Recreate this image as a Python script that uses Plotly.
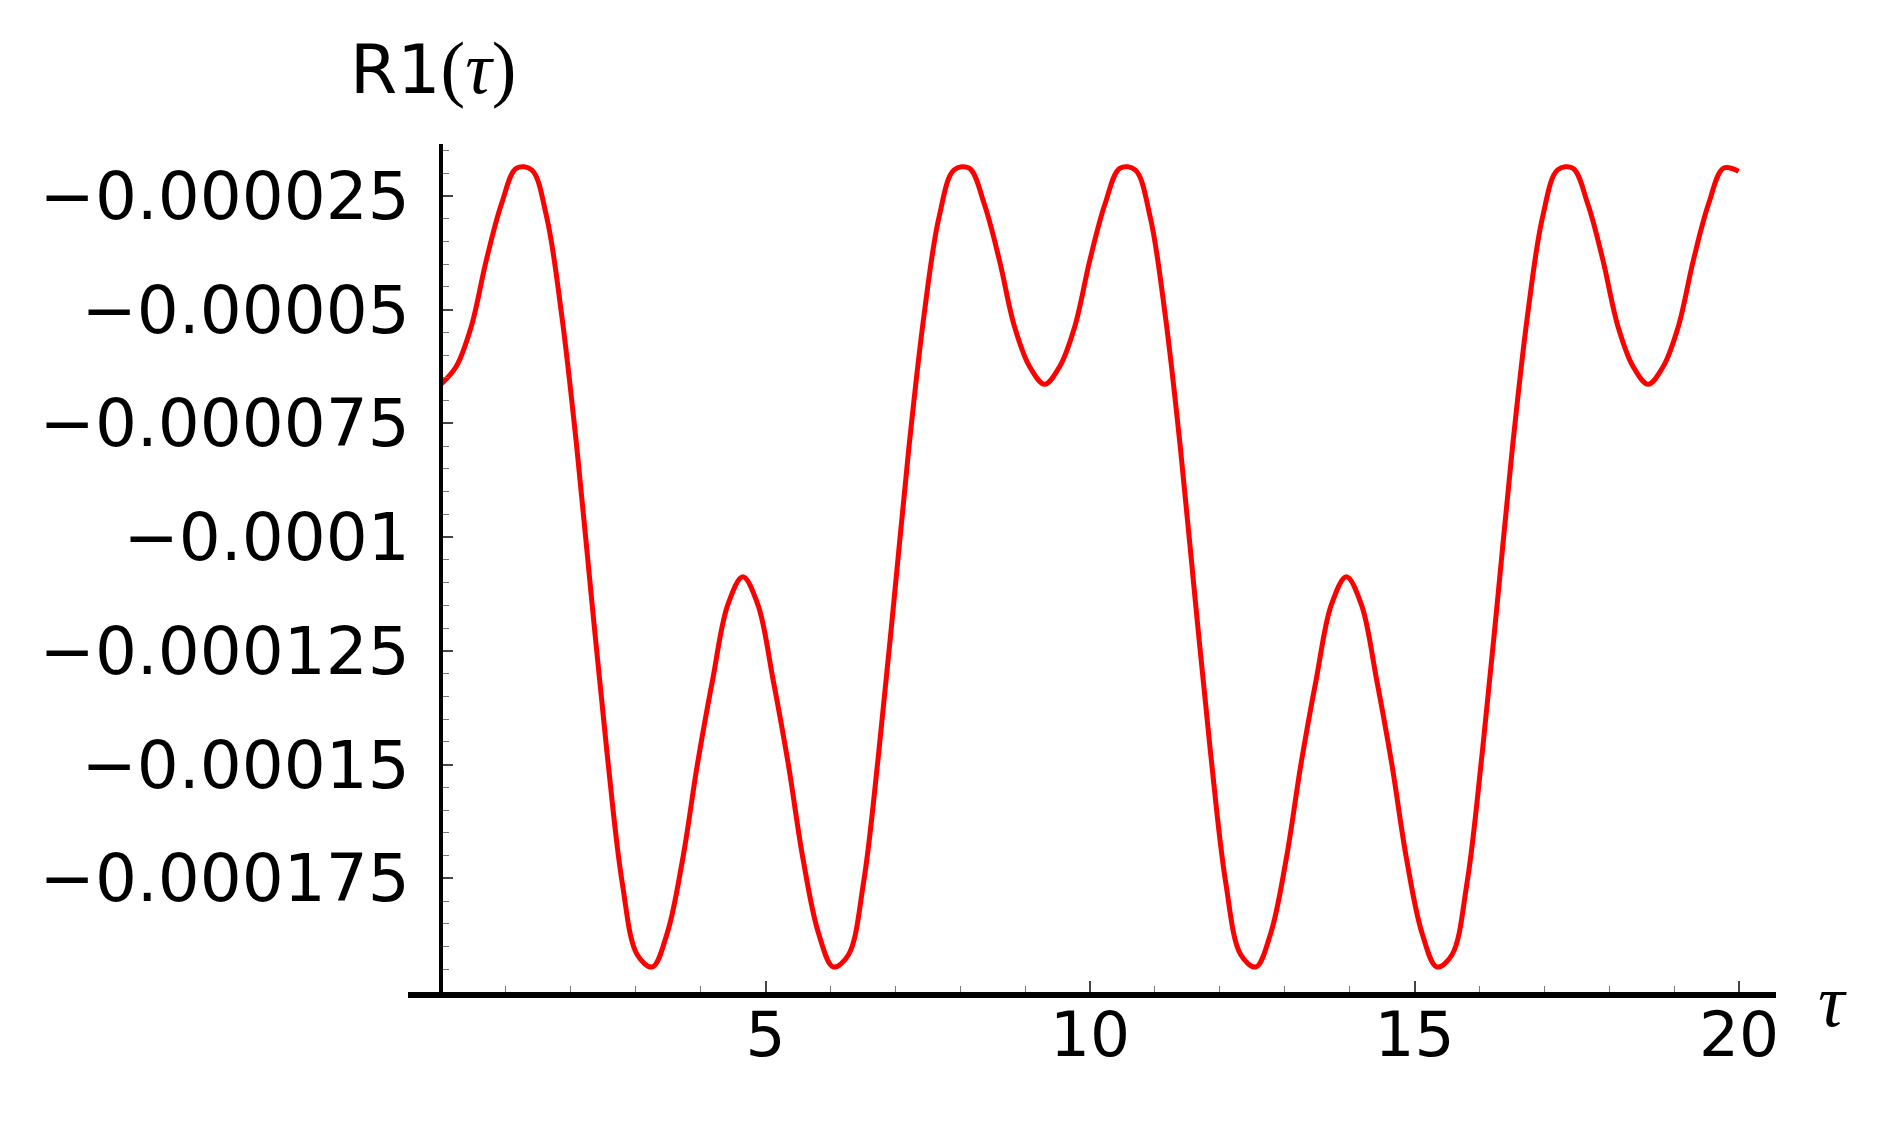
import plotly.graph_objects as go

tau = [0.0, 0.2325, 0.465, 0.6975, 0.93, 1.1625, 1.395, 1.6275, 1.86, 2.0925, 2.325, 2.5575, 2.79, 3.0225,
       3.255, 3.4875, 3.72, 3.9525, 4.185, 4.4175, 4.65, 4.8825, 5.115, 5.3475, 5.58, 5.8125, 6.045, 6.2775,
       6.51, 6.7425, 6.975, 7.2075, 7.44, 7.6725, 7.905, 8.1375, 8.37, 8.6025, 8.835, 9.0675, 9.3, 9.5325,
       9.765, 9.9975, 10.23, 10.4625, 10.695, 10.9275, 11.16, 11.3925, 11.625, 11.8575, 12.09, 12.3225,
       12.555, 12.7875, 13.02, 13.2525, 13.485, 13.7175, 13.95, 14.1825, 14.415, 14.6475, 14.88, 15.1125,
       15.345, 15.5775, 15.81, 16.0425, 16.275, 16.5075, 16.74, 16.9725, 17.205, 17.4375, 17.67, 17.9025,
       18.135, 18.3675, 18.6, 18.8325, 19.065, 19.2975, 19.53, 19.7625, 19.995]
r1_micro = [
    -66.4, -62.5, -53.7, -39.1, -26.8, -18.9, -19.3, -29.7, -51.4, -80.5, -114.5, -147.5, -175.9, -191.8,
    -194.5, -186.9, -171.0, -149.7, -131.3, -114.9, -108.7,
    -114.9, -131.3, -149.7, -171.0, -186.9, -194.5, -191.8, -175.9, -147.5, -114.5, -80.5, -51.4, -29.7,
    -19.3, -18.9, -26.8, -39.1, -53.7, -62.5,
    -66.4, -62.5, -53.7, -39.1, -26.8, -18.9, -19.3, -29.7, -51.4, -80.5, -114.5, -147.5, -175.9, -191.8,
    -194.5, -186.9, -171.0, -149.7, -131.3, -114.9, -108.7,
    -114.9, -131.3, -149.7, -171.0, -186.9, -194.5, -191.8, -175.9, -147.5, -114.5, -80.5, -51.4, -29.7,
    -19.3, -18.9, -26.8, -39.1, -53.7, -62.5,
    -66.4, -62.5, -53.7, -39.1, -26.8, -18.9, -19.6]

x_tick_vals = [5, 10, 15, 20]
x_tick_text = ["5", "10", "15", "20"]
x_minor_vals = [1, 2, 3, 4, 6, 7, 8, 9, 11, 12, 13, 14, 16, 17, 18, 19]
y_tick_vals = [-0.000025, -0.00005, -0.000075, -0.0001, -0.000125, -0.00015, -0.000175]
y_tick_text = ["\u22120.000025", "\u22120.00005", "\u22120.000075", "\u22120.0001",
               "\u22120.000125", "\u22120.00015", "\u22120.000175"]
y_minor_vals = [-0.000005 * k for k in range(3, 40)]

r1 = [v * 1e-6 for v in r1_micro]

# page has an 8px body margin, so the figure is shrunk by that much
OFF = 8
W, H = 1884 - OFF, 1133 - OFF
L, R, T, B = 408 - OFF, 108, 144 - OFF, 141
PL, PR, PT, PB = 408, 1776, 144, 992  # plot area in page pixels
pw, ph = PR - PL, PB - PT
x0_px = 441
x_rng = [-0.51, 20.57]
y_rng = [-0.0002, -0.0000136]

fig = go.Figure()
fig.add_trace(go.Scatter(x=tau, y=r1, mode="lines",
                         line=dict(color="#ff0000", width=5, shape="spline", smoothing=1.0),
                         hoverinfo="skip", showlegend=False))

xfont = dict(family="DejaVu Sans", size=63, color="black")
yfont = dict(family="DejaVu Sans", size=66, color="black")
fig.update_layout(
    width=W, height=H,
    margin=dict(l=L, r=R, t=T, b=B),
    paper_bgcolor="white", plot_bgcolor="white",
    xaxis=dict(range=x_rng, showgrid=False, zeroline=False, showline=True, linecolor="black", linewidth=6,
               tickmode="array", tickvals=x_tick_vals, ticktext=x_tick_text, ticks="inside", ticklen=11,
               tickwidth=1.5, tickcolor="#444", tickfont=xfont, ticklabelstandoff=-18,
               minor=dict(tickmode="array", tickvals=x_minor_vals, ticks="inside", ticklen=6,
                          tickwidth=1.2, tickcolor="#777")),
    yaxis=dict(range=y_rng, showgrid=False, zeroline=False, showline=True, linecolor="black", linewidth=4,
               anchor="free", position=(x0_px - PL) / pw,
               tickmode="array", tickvals=y_tick_vals, ticktext=y_tick_text, ticks="inside", ticklen=10,
               tickwidth=1.5, tickcolor="#444", tickfont=yfont, ticklabelstandoff=16,
               minor=dict(tickmode="array", tickvals=y_minor_vals, ticks="inside", ticklen=6,
                          tickwidth=1.2, tickcolor="#777")),
)

fig.add_annotation(xref="paper", yref="paper", x=(348 - PL) / pw, y=(PB - 68) / ph, xanchor="left", yanchor="middle",
                   showarrow=False,
                   text="<span style='font-family:DejaVu Sans;font-size:68px'>R1</span>"
                        "<span style='font-family:Liberation Serif;font-size:74px'>(<i>\u03c4</i>)</span>",
                   font=dict(color="black"))
fig.add_annotation(xref="paper", yref="paper", x=(1832 - PL) / pw, y=(PB - 1001) / ph, xanchor="center", yanchor="middle",
                   showarrow=False, text="<i>\u03c4</i>",
                   font=dict(family="Liberation Serif", size=74, color="black"))

fig.write_html("out.html")
